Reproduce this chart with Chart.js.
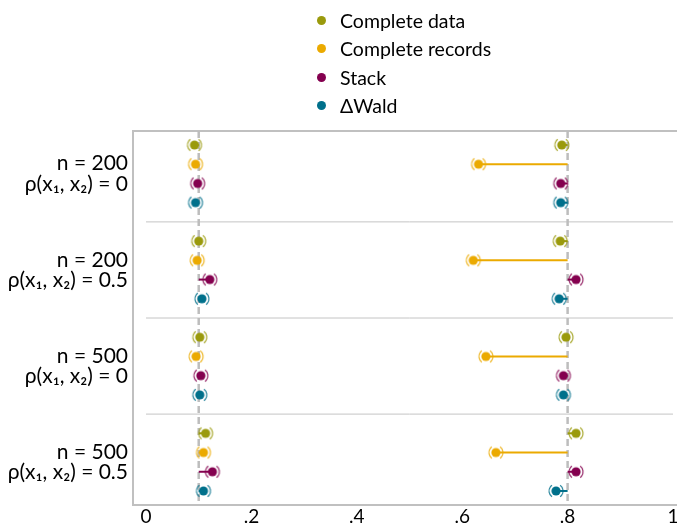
<!DOCTYPE html>
<html><head><meta charset="utf-8">
<script src="https://cdn.jsdelivr.net/npm/chart.js@4"></script>
<style>
html,body{margin:0;padding:0;background:#fff;overflow:hidden}
#wrap{position:relative;width:677px;height:523px}
#legend{position:absolute;left:0;top:0;width:677px;height:120px;font-family:Lato,'DejaVu Sans',sans-serif;font-size:19.5px;color:#000}
.li{position:absolute;left:317px;height:22px;display:flex;align-items:center;white-space:nowrap}
.dot{width:9px;height:9px;border-radius:50%;margin-right:14px;flex:none}
</style></head><body>
<div id="wrap"><canvas id="c" width="677" height="523"></canvas><div id="legend"></div></div>
<script>
// ---- data ----
const methods = ["Complete data", "Complete records", "Stack", "\u0394Wald"];
const groupLabels = [
  ["n = 200", "\u03C1(x\u2081, x\u2082) = 0"],
  ["n = 200", "\u03C1(x\u2081, x\u2082) = 0.5"],
  ["n = 500", "\u03C1(x\u2081, x\u2082) = 0"],
  ["n = 500", "\u03C1(x\u2081, x\u2082) = 0.5"]
];
const trueValues = [0.1, 0.8];
// estimates for the parameter with true value 0.1, by group
const completeData1    = [0.092, 0.100, 0.102, 0.113];
const completeRecords1 = [0.094, 0.097, 0.095, 0.109];
const stack1           = [0.098, 0.121, 0.104, 0.126];
const deltaWald1       = [0.094, 0.106, 0.102, 0.109];
// estimates for the parameter with true value 0.8, by group
const completeData2    = [0.789, 0.786, 0.797, 0.816];
const completeRecords2 = [0.631, 0.621, 0.645, 0.664];
const stack2           = [0.787, 0.816, 0.792, 0.816];
const deltaWald2       = [0.787, 0.784, 0.792, 0.778];
const xTickValues = [0, 0.2, 0.4, 0.6, 0.8, 1];
const xTickLabels = ["0", ".2", ".4", ".6", ".8", "1"];

// ---- styling ----
const colors = ["#9a9a0c", "#ebaa00", "#84004f", "#00708b"];
const FONT = "Lato, 'DejaVu Sans', sans-serif";
const est1 = [completeData1, completeRecords1, stack1, deltaWald1];
const est2 = [completeData2, completeRecords2, stack2, deltaWald2];
const ROWS_PER_GROUP = 5;
const yMin = -0.73, yMax = 18.73;
const rowY = (g, m) => g * ROWS_PER_GROUP + m;

function marker(col) {
  const c = document.createElement('canvas');
  c.width = 24; c.height = 18;
  const x = c.getContext('2d');
  const cx = 12, cy = 9;
  x.strokeStyle = col; x.globalAlpha = 0.85; x.lineWidth = 1.2;
  x.beginPath(); x.arc(cx, cy, 7, Math.PI * 0.70, Math.PI * 1.30); x.stroke();
  x.beginPath(); x.arc(cx, cy, 7, -Math.PI * 0.30, Math.PI * 0.30); x.stroke();
  x.globalAlpha = 1; x.fillStyle = col;
  x.beginPath(); x.arc(cx, cy, 4.6, 0, Math.PI * 2); x.fill();
  return c;
}

const datasets = [];
// dots (on top)
methods.forEach((name, m) => {
  const pts = [];
  groupLabels.forEach((_, g) => {
    pts.push({x: est1[m][g], y: rowY(g, m)});
    pts.push({x: est2[m][g], y: rowY(g, m)});
  });
  datasets.push({label: name, data: pts, pointStyle: marker(colors[m]),
    pointRadius: 5, backgroundColor: colors[m], borderColor: colors[m], showLine: false});
});
// bias segments
methods.forEach((name, m) => {
  groupLabels.forEach((_, g) => {
    [est1, est2].forEach((est, p) => {
      datasets.push({label: '_seg', data: [{x: trueValues[p], y: rowY(g, m)}, {x: est[m][g], y: rowY(g, m)}],
        showLine: true, borderColor: colors[m], borderWidth: 2, pointRadius: 0});
    });
  });
});
// reference lines
trueValues.forEach(v => {
  datasets.push({label: '_ref', data: [{x: v, y: yMin}, {x: v, y: yMax}], showLine: true,
    borderColor: '#bdbdbd', borderWidth: 2.5, borderDash: [7, 4], pointRadius: 0});
});
// group separators
for (let g = 1; g < groupLabels.length; g++) {
  const y = g * ROWS_PER_GROUP - 1;
  datasets.push({label: '_sep', data: [{x: 0, y}, {x: 1, y}], showLine: true,
    borderColor: '#c4c4c4', borderWidth: 1, pointRadius: 0});
}

const framePlugin = {
  id: 'frame',
  beforeDatasetsDraw(chart) {
    const {ctx, chartArea: a} = chart;
    ctx.save();
    ctx.strokeStyle = '#c0c0c0'; ctx.lineWidth = 2;
    ctx.beginPath();
    ctx.moveTo(a.right + 10, a.top); ctx.lineTo(a.left, a.top);
    ctx.lineTo(a.left, a.bottom); ctx.lineTo(a.right + 10, a.bottom);
    ctx.stroke();
    ctx.restore();
  }
};

const chart = new Chart(document.getElementById('c'), {
  type: 'scatter',
  data: {datasets},
  options: {
    responsive: false, animation: false,
    layout: {autoPadding: false, padding: {top: 131, left: 0, right: 0, bottom: 0}},
    plugins: {legend: {display: false}, tooltip: {enabled: false}},
    scales: {
      x: {
        type: 'linear', min: -0.0247, max: 1.0076,
        afterBuildTicks: s => { s.ticks = xTickValues.map(v => ({value: v})); },
        afterFit: s => { s.height = 18; s.paddingLeft = 0; s.paddingRight = 0; s.paddingTop = 0; s.paddingBottom = 0; },
        grid: {display: false, drawTicks: false}, border: {display: false},
        ticks: {color: '#000', padding: 0, font: {family: FONT, size: 19}, maxRotation: 0, autoSkip: false,
          callback: (v) => { const i = xTickValues.findIndex(t => Math.abs(t - v) < 1e-9); return i >= 0 ? xTickLabels[i] : ''; }}
      },
      y: {
        type: 'linear', min: yMin, max: yMax, reverse: true,
        afterBuildTicks: s => { s.ticks = groupLabels.map((_, g) => ({value: g * ROWS_PER_GROUP + 1.5})); },
        afterFit: s => { s.width = 133; s.paddingLeft = 0; s.paddingRight = 0; s.paddingTop = 0; s.paddingBottom = 0; },
        grid: {display: false, drawTicks: false}, border: {display: false},
        ticks: {color: '#000', padding: 5, font: {family: FONT, size: 21, lineHeight: 0.97}, autoSkip: false,
          callback: (v) => { const g = Math.round((v - 1.5) / ROWS_PER_GROUP); return groupLabels[g] || ''; }}
      }
    }
  },
  plugins: [framePlugin]
});

// legend built from the chart's datasets
const lg = document.getElementById('legend');
const legendCenters = [20, 48.5, 77, 105.5];
chart.data.datasets.filter(d => d.label[0] !== '_').forEach((d, i) => {
  const el = document.createElement('div');
  el.className = 'li';
  el.style.top = (legendCenters[i] - 11) + 'px';
  el.innerHTML = '<span class="dot" style="background:' + d.backgroundColor + '"></span><span>' + d.label + '</span>';
  lg.appendChild(el);
});
</script>
</body></html>
